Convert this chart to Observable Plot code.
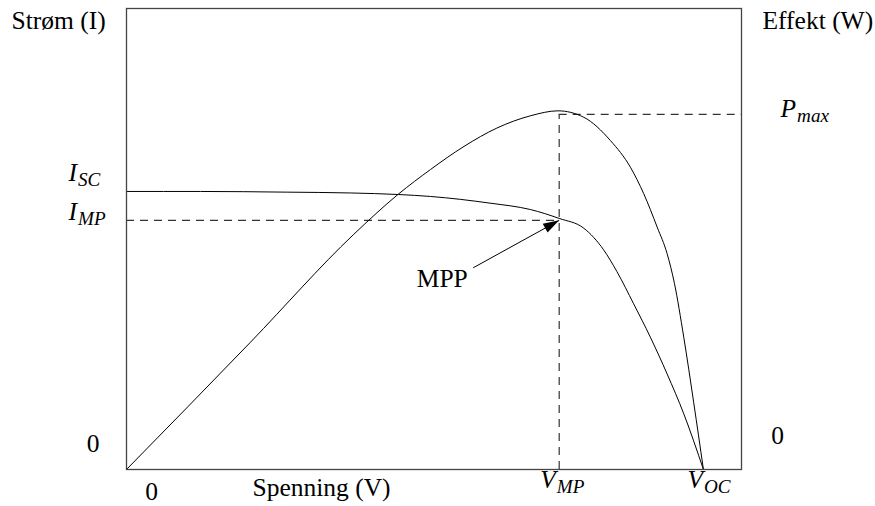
<!DOCTYPE html>
<html>
<head>
<meta charset="utf-8">
<script src="https://cdn.jsdelivr.net/npm/d3@7"></script>
<script src="https://cdn.jsdelivr.net/npm/@observablehq/plot@0.6"></script>
<style>
  body { margin: 0; background: #fff; }
  #chart svg { display: block; }
</style>
</head>
<body>
<div id="chart"></div>
<script>
// ---- Data (normalised: V_OC = 1, I_SC = 1) ----
const ivVoltage = [0, 0.128, 0.2785, 0.388, 0.4714, 0.527, 0.63, 0.70, 0.75, 0.7925, 0.827, 0.85, 0.879, 0.908, 0.937, 0.966, 1.0];
const ivCurrent = [1.0, 1.0, 0.9975, 0.9946, 0.989, 0.982, 0.958, 0.935, 0.903, 0.868, 0.790, 0.712, 0.596, 0.476, 0.344, 0.200, 0.0];

const pvVoltage = [0, 0.215, 0.394, 0.471, 0.527, 0.585, 0.642, 0.700, 0.748, 0.7925, 0.8388, 0.8735, 0.8965, 0.9198, 0.9371, 0.9497, 0.9659, 0.9832, 1.0];
const pvPower   = [0, 0.458, 0.846, 0.990, 1.079, 1.162, 1.228, 1.272, 1.290, 1.267, 1.183, 1.087, 0.992, 0.872, 0.776, 0.670, 0.476, 0.240, 0.0];

const V_MP = 0.75;
const V_OC = 1.0;
const I_SC = 1.0;
const I_MP = 0.896;
const P_max = 1.277;

const xMax = 1.066;
const yMax = 1.658;

// Arrow pointing at MPP (tail, tip)
const mppArrow = [{x1: 0.601, y1: 0.7255, x2: V_MP, y2: I_MP}];

const ivData = ivVoltage.map((v, i) => ({v, y: ivCurrent[i]}));
const pvData = pvVoltage.map((v, i) => ({v, y: pvPower[i]}));

const FONT = "Liberation Serif";
const fs = 25.5;
const dash = {stroke: "#333", strokeWidth: 1.2, strokeDasharray: "8,6"};

// filled triangular arrowhead, apex at the origin, rotated to the arrow direction
const headAngle = -28.8 * Math.PI / 180;
const arrowHead = {
  draw(context) {
    const pts = [[0, 0], [-16, -5], [-16, 5]].map(([px, py]) => [
      px * Math.cos(headAngle) - py * Math.sin(headAngle),
      px * Math.sin(headAngle) + py * Math.cos(headAngle)
    ]);
    context.moveTo(pts[0][0], pts[0][1]);
    context.lineTo(pts[1][0], pts[1][1]);
    context.lineTo(pts[2][0], pts[2][1]);
    context.closePath();
  }
};

const T = (data, opts) => Plot.text(data, {fontSize: fs, fontFamily: FONT, fill: "black", lineAnchor: "bottom", ...opts});
const M = (data, opts) => T(data, {fontStyle: "italic", textAnchor: "start", ...opts});

const plot = Plot.plot({
  width: 875,
  height: 506,
  marginLeft: 126,
  marginRight: 134,
  marginTop: 8,
  marginBottom: 37,
  x: {domain: [0, xMax], axis: null},
  y: {domain: [0, yMax], axis: null},
  marks: [
    Plot.ruleY([I_MP], {x1: 0, x2: V_MP, ...dash}),
    Plot.ruleX([V_MP], {y1: 0, y2: P_max, ...dash}),
    Plot.ruleY([P_max], {x1: V_MP, x2: xMax, ...dash}),
    Plot.line(ivData, {x: "v", y: "y", curve: "monotone-x", stroke: "black", strokeWidth: 1}),
    Plot.line(pvData, {x: "v", y: "y", curve: "monotone-x", stroke: "black", strokeWidth: 1}),
    Plot.link(mppArrow, {x1: "x1", y1: "y1", x2: "x2", y2: "y2", stroke: "black", strokeWidth: 1}),
    Plot.dot(mppArrow, {x: "x2", y: "y2", symbol: arrowHead, r: 5, fill: "black", stroke: "none"}),
    Plot.frame({stroke: "#444", strokeWidth: 1.3}),

    // axis titles
    T(["Strøm (I)"], {x: 0, y: yMax, dx: -115, dy: 20, textAnchor: "start"}),
    T(["Effekt (W)"], {x: xMax, y: yMax, dx: 21, dy: 20, textAnchor: "start"}),
    T(["Spenning (V)"], {x: 0, y: 0, dx: 195, dy: 26, textAnchor: "middle"}),

    // zero labels
    T(["0"], {x: 0, y: 0, dx: -33.5, dy: -18, textAnchor: "middle"}),
    T(["0"], {x: 0, y: 0, dx: 25, dy: 30, textAnchor: "middle"}),
    T(["0"], {x: xMax, y: 0, dx: 36, dy: -26, textAnchor: "middle"}),

    // math labels
    M(["I_SC"], {x: 0, y: I_SC, dx: -58, dy: -10}),
    M(["I_MP"], {x: 0, y: I_MP, dx: -58, dy: 0}),
    M(["V_MP"], {x: V_MP, y: 0, dx: -19, dy: 18}),
    M(["V_OC"], {x: V_OC, y: 0, dx: -16, dy: 18}),
    M(["P_max"], {x: xMax, y: P_max, dx: 39, dy: 3}),

    // MPP annotation
    T(["MPP"], {x: 0.601, y: 0.7255, dx: -31, dy: 19.4, textAnchor: "middle"})
  ]
});

// turn "A_B" texts into main + subscript
d3.select(plot).selectAll("text").each(function () {
  const t = this.textContent;
  const i = t.indexOf("_");
  if (i < 0) return;
  const main = t.slice(0, i), sub = t.slice(i + 1);
  this.textContent = "";
  const s = d3.select(this);
  s.append("tspan").text(main);
  s.append("tspan").attr("font-size", fs * 0.75).attr("dy", 5).attr("dx", 1).text(sub);
});

document.getElementById("chart").appendChild(plot);
</script>
</body>
</html>
